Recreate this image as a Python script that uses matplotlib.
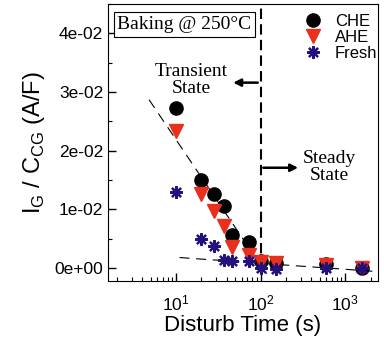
import numpy as np
import matplotlib.pyplot as plt
from matplotlib.ticker import LogLocator, MultipleLocator, NullFormatter, FuncFormatter

plt.rcParams['font.family'] = ['Liberation Sans', 'DejaVu Sans']
serif = {'family': 'Liberation Serif'}

t = [10, 20, 28, 37, 46, 74, 101, 152, 596, 1590]
che = [0.0273, 0.0150, 0.0126, 0.0106, 0.0056, 0.0045, 0.0012, 0.0009, 0.0007, 0.0001]
ahe = [0.0234, 0.0127, 0.0097, 0.0071, 0.0036, 0.0022, 0.0010, 0.0008, 0.0005, 0.0000]
fresh = [0.0130, 0.0050, 0.0038, 0.0014, 0.0012, 0.0012, 0.0000, -0.0001, 0.0000, 0.0000]

fit1_x = [4.8, 118]
fit1_y = [0.0287, -0.0010]
fit2_x = [11, 2450]
fit2_y = [0.0018, -0.0006]

fig = plt.figure(figsize=(3.84, 3.37), dpi=100)
ax = fig.add_axes([108/384, 1-281/337, 270/384, 277/337])

ax.plot(fit1_x, fit1_y, color='black', lw=0.8, dashes=(9, 6))
ax.plot(fit2_x, fit2_y, color='black', lw=0.8, dashes=(9, 6))
ax.plot(t, che, 'o', color='black', ms=9.5, label='CHE', zorder=3)
ax.plot(t, ahe, 'v', color='#e8301c', ms=9.5, label='AHE', zorder=4)
ax.plot(t, fresh, ls='none', marker=(8, 2, 0), color='#24127a', ms=9, mew=1.6,
        label='Fresh', zorder=5)

ax.axvline(100, ymin=0.045, ymax=1, color='black', lw=1.5, dashes=(5, 2.5))

ax.set_xscale('log')
ax.set_xlim(1.57, 2450)
ax.set_ylim(-0.0022, 0.045)
ax.yaxis.set_major_locator(MultipleLocator(0.01))
ax.yaxis.set_minor_locator(MultipleLocator(0.005))
ax.yaxis.set_major_formatter(FuncFormatter(lambda v, p: '%.0e' % v if abs(v) > 1e-9 else '0e+00'))
ax.xaxis.set_major_locator(LogLocator(base=10, numticks=10))
ax.xaxis.set_minor_locator(LogLocator(base=10, subs=np.arange(2, 10), numticks=20))
ax.xaxis.set_minor_formatter(NullFormatter())
ax.tick_params(which='both', direction='in', top=False, right=False, labelsize=12.5)
ax.tick_params(which='major', length=6, width=1)
ax.tick_params(which='minor', length=3, width=0.8)
ax.tick_params(axis='x', which='major', pad=9)

ax.set_xlabel('Disturb Time (s)', fontsize=16, labelpad=1)
ax.set_ylabel(r'I$_\mathregular{G}$ / C$_\mathregular{CG}$ (A/F)', fontsize=17, labelpad=5)

ax.text(0.035, 0.925, 'Baking @ 250°C', transform=ax.transAxes, fontsize=14, fontdict=serif,
        va='center', ha='left', bbox=dict(boxstyle='square,pad=0.2', fc='white', ec='black', lw=0.8))
ax.text(0.307, 0.726, 'Transient\nState', transform=ax.transAxes, fontsize=14, fontdict=serif,
        ha='center', va='center', linespacing=1.0)
ax.text(0.82, 0.41, 'Steady\nState', transform=ax.transAxes, fontsize=14, fontdict=serif,
        ha='center', va='center', linespacing=1.0)
ax.annotate('', xy=(44, 0.0316), xytext=(100, 0.0316),
            arrowprops=dict(arrowstyle='-|>', color='black', lw=1.8, mutation_scale=11))
ax.annotate('', xy=(300, 0.0171), xytext=(100, 0.0171),
            arrowprops=dict(arrowstyle='-|>', color='black', lw=1.8, mutation_scale=11))

ax.legend(loc='upper right', bbox_to_anchor=(1.035, 1.0), frameon=False, fontsize=12,
          handletextpad=0.7, labelspacing=0.05, borderaxespad=0.2, handlelength=1.2)

plt.savefig('out.png', dpi=100)
